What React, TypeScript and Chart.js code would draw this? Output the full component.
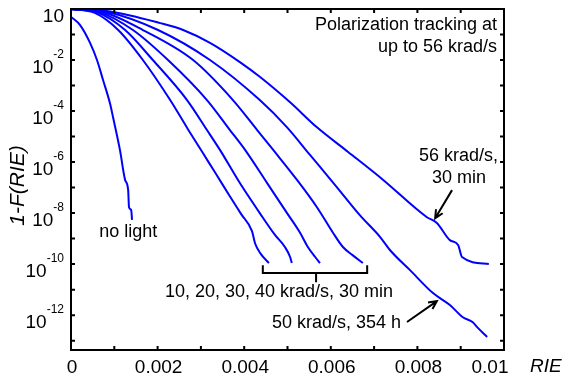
import React, { useEffect, useRef } from 'react';
import { Chart, registerables } from 'chart.js';

Chart.register(...registerables);

// ---- data (x = RIE, y = 1-F(RIE)) ----
const noLightX = [0, 0.00021, 0.00044, 0.0006, 0.00074, 0.0009, 0.00097, 0.00113, 0.00125, 0.00132, 0.00134, 0.00139, 0.00141];
const noLightY = [0.49, 0.235, 4.7e-2, 1e-2, 1.65e-3, 2.0e-4, 5.8e-5, 3.0e-6, 2e-7, 8e-8, 1.7e-8, 1.3e-8, 5.4e-9];

const k10X = [0, 0.00055, 0.00109, 0.00166, 0.00229, 0.0027, 0.00305, 0.00335, 0.00365, 0.00393, 0.00418, 0.00425, 0.00437, 0.00457];
const k10Y = [1, 0.7, 0.15, 1e-2, 2.7e-4, 1.95e-5, 2.2e-6, 3.4e-7, 5.1e-8, 9.1e-9, 1.95e-9, 6.6e-10, 2.7e-10, 1.1e-10];

const k20X = [0, 0.00062, 0.00125, 0.00189, 0.00268, 0.00314, 0.00344, 0.0039, 0.00436, 0.00471, 0.00494, 0.00506, 0.0051];
const k20Y = [1, 0.72, 0.15, 1e-2, 2.7e-4, 1.8e-5, 3.0e-6, 1.5e-7, 1e-8, 1.4e-9, 4.7e-10, 1.9e-10, 1.1e-10];

const k30X = [0, 0.00067, 0.00143, 0.00224, 0.00314, 0.00367, 0.00402, 0.00453, 0.00499, 0.00529, 0.00547, 0.00564, 0.00575];
const k30Y = [1, 0.74, 0.15, 1e-2, 2.7e-4, 1.8e-5, 3.0e-6, 1.5e-7, 1e-8, 1.7e-9, 4.7e-10, 1.9e-10, 1.1e-10];

const k40X = [0, 0.00074, 0.00166, 0.00282, 0.00374, 0.0043, 0.00467, 0.00522, 0.00568, 0.00605, 0.00628, 0.00651, 0.00674];
const k40Y = [1, 0.76, 0.15, 1e-2, 2.7e-4, 1.8e-5, 3.0e-6, 2e-7, 1.7e-8, 1.7e-9, 4.7e-10, 2.2e-10, 1.1e-10];

const k50X = [0, 0.00081, 0.00201, 0.00321, 0.00436, 0.00499, 0.00552, 0.0061, 0.00667, 0.00714, 0.00737, 0.00783, 0.00836, 0.00875, 0.00905, 0.00928, 0.00938, 0.00961];
const k50Y = [1, 0.78, 0.15, 1e-2, 2.7e-4, 2.3e-5, 1.9e-6, 1.26e-7, 8.3e-9, 1.15e-9, 3.5e-10, 5.8e-11, 7.3e-12, 2.5e-12, 8.3e-13, 5.3e-13, 3.4e-13, 1.4e-13];

const k56X = [0, 0.0009, 0.00206, 0.00259, 0.00321, 0.0039, 0.00436, 0.00506, 0.00568, 0.0064, 0.00721, 0.00822, 0.00845, 0.00875, 0.00894, 0.00903, 0.00965];
const k56Y = [1, 0.8, 0.28, 0.15, 4.7e-2, 8.3e-3, 2.2e-3, 2.2e-4, 2.3e-5, 2.5e-6, 2e-7, 6.9e-9, 4.1e-9, 8.7e-10, 5.6e-10, 1.9e-10, 1e-10];

// ---- axes ----
const xTicks = [0, 0.001, 0.002, 0.003, 0.004, 0.005, 0.006, 0.007, 0.008, 0.009, 0.01];
const xTickLabels = ['0', '', '0.002', '', '0.004', '', '0.006', '', '0.008', '', '0.01'];
const yTicks = [1, 1e-1, 1e-2, 1e-3, 1e-4, 1e-5, 1e-6, 1e-7, 1e-8, 1e-9, 1e-10, 1e-11, 1e-12, 1e-13];
const yTickSup = ['', null, '-2', null, '-4', null, '-6', null, '-8', null, '-10', null, '-12', null];
const X_MIN = 0;
const X_MAX = 0.01;
const Y_MIN = 4.3e-14;
const Y_MAX = 1;

const BLUE = 'rgb(0,0,255)';
const FONT = '"Liberation Sans", Arial, sans-serif';

const toPts = (xs: number[], ys: number[]) => xs.map((x, i) => ({ x, y: ys[i] }));

const decor = {
  id: 'decor',
  afterDraw(chart: any) {
    const { ctx, chartArea: a } = chart;
    const xs = chart.scales.x;
    const ys = chart.scales.y;
    const X = (v: number) => xs.getPixelForValue(v);
    const Y = (e: number) => ys.getPixelForValue(Math.pow(10, e));
    ctx.save();
    ctx.strokeStyle = '#000';
    ctx.fillStyle = '#000';
    ctx.lineWidth = 2;
    // frame
    ctx.strokeRect(a.left, a.top, a.right - a.left, a.bottom - a.top);
    // ticks (inward)
    const TL = 4;
    ctx.beginPath();
    xTicks.forEach((v) => {
      const px = X(v);
      ctx.moveTo(px, a.bottom); ctx.lineTo(px, a.bottom - TL);
      ctx.moveTo(px, a.top); ctx.lineTo(px, a.top + TL);
    });
    yTicks.forEach((v) => {
      const py = ys.getPixelForValue(v);
      ctx.moveTo(a.left, py); ctx.lineTo(a.left + TL, py);
      ctx.moveTo(a.right, py); ctx.lineTo(a.right - TL, py);
    });
    ctx.stroke();

    // x tick labels
    ctx.font = `19px ${FONT}`;
    ctx.textBaseline = 'middle';
    ctx.textAlign = 'center';
    xTicks.forEach((v, i) => {
      const t = xTickLabels[i];
      if (!t) return;
      let px = X(v);
      if (i === xTicks.length - 1) px -= 15;
      ctx.fillText(t, px + 1, a.bottom + 18);
    });
    // y tick labels: 10^e
    yTicks.forEach((v, i) => {
      const sup = yTickSup[i];
      if (sup === null) return;
      const py = ys.getPixelForValue(v);
      const right = a.left - 7;
      ctx.font = `12px ${FONT}`;
      const sw = sup ? ctx.measureText(sup).width : 0;
      ctx.textAlign = 'left';
      ctx.textBaseline = 'alphabetic';
      if (sup) ctx.fillText(sup, right - sw, py - 2);
      ctx.font = `19px ${FONT}`;
      ctx.textAlign = 'right';
      ctx.fillText('10', right - sw, py + 13);
    });

    // axis titles
    ctx.font = `italic 19px ${FONT}`;
    ctx.textAlign = 'left';
    ctx.textBaseline = 'middle';
    ctx.fillText('RIE', a.right + 26, a.bottom + 17);
    ctx.save();
    ctx.translate(18, (a.top + a.bottom) / 2 + 6);
    ctx.rotate(-Math.PI / 2);
    ctx.textAlign = 'center';
    ctx.font = `italic 21px ${FONT}`;
    ctx.fillText('1-F(RIE)', 0, 0);
    ctx.restore();

    // annotations
    ctx.font = `18px ${FONT}`;
    ctx.textBaseline = 'middle';
    ctx.textAlign = 'right';
    ctx.fillText('Polarization tracking at', X(0.00984), Y(-0.63));
    ctx.fillText('up to 56 krad/s', X(0.00984), Y(-1.49));
    ctx.fillText('56 krad/s,', X(0.00986), Y(-5.76));
    ctx.textAlign = 'center';
    ctx.fillText('30 min', X(0.00896), Y(-6.63));
    ctx.textAlign = 'left';
    ctx.fillText('no light', X(0.00065), Y(-8.75));
    ctx.fillText('10, 20, 30, 40 krad/s, 30 min', X(0.00217), Y(-11.1));
    ctx.fillText('50 krad/s, 354 h', X(0.00464), Y(-12.31));

    // bracket
    ctx.lineWidth = 2;
    ctx.beginPath();
    ctx.moveTo(X(0.00443), Y(-10.04));
    ctx.lineTo(X(0.00443), Y(-10.35));
    ctx.lineTo(X(0.00684), Y(-10.35));
    ctx.lineTo(X(0.00684), Y(-10.04));
    ctx.moveTo(X(0.00566), Y(-10.35));
    ctx.lineTo(X(0.00566), Y(-10.71));
    ctx.stroke();

    // arrows
    const arrow = (x0: number, y0: number, x1: number, y1: number) => {
      const ang = Math.atan2(y1 - y0, x1 - x0);
      const h = 9;
      ctx.beginPath();
      ctx.moveTo(x0, y0);
      ctx.lineTo(x1, y1);
      ctx.moveTo(x1 - h * Math.cos(ang - 0.45), y1 - h * Math.sin(ang - 0.45));
      ctx.lineTo(x1, y1);
      ctx.lineTo(x1 - h * Math.cos(ang + 0.45), y1 - h * Math.sin(ang + 0.45));
      ctx.stroke();
    };
    ctx.lineWidth = 2;
    arrow(X(0.0088), Y(-7.1), X(0.00841), Y(-8.2));
    arrow(X(0.00776), Y(-12.27), X(0.00845), Y(-11.45));
    ctx.restore();
  },
};

export default function App() {
  const ref = useRef<HTMLCanvasElement | null>(null);
  useEffect(() => {
    document.body.style.margin = '0';
    const series = [
      toPts(noLightX, noLightY),
      toPts(k10X, k10Y),
      toPts(k20X, k20Y),
      toPts(k30X, k30Y),
      toPts(k40X, k40Y),
      toPts(k50X, k50Y),
      toPts(k56X, k56Y),
    ];
    const chart = new Chart(ref.current as HTMLCanvasElement, {
      type: 'line',
      data: {
        datasets: series.map((d) => ({
          data: d,
          borderColor: BLUE,
          borderWidth: 2,
          pointRadius: 0,
          cubicInterpolationMode: 'monotone' as const,
          fill: false,
        })),
      },
      options: {
        animation: false,
        responsive: false,
        events: [],
        layout: { padding: { top: 9, right: 62, left: 0, bottom: 0 } },
        plugins: { legend: { display: false }, tooltip: { enabled: false } },
        scales: {
          x: {
            type: 'linear',
            min: X_MIN,
            max: X_MAX,
            grid: { display: false },
            border: { display: false },
            ticks: { display: false },
            afterFit: (s: any) => { s.height = 28; },
          },
          y: {
            type: 'logarithmic',
            min: Y_MIN,
            max: Y_MAX,
            grid: { display: false },
            border: { display: false },
            ticks: { display: false },
            afterFit: (s: any) => { s.width = 71; },
          },
        },
      },
      plugins: [decor],
    });
    return () => chart.destroy();
  }, []);
  return (
    <div style={{ width: 566, height: 378, background: '#fff' }}>
      <canvas ref={ref} width={566} height={378} />
    </div>
  );
}
